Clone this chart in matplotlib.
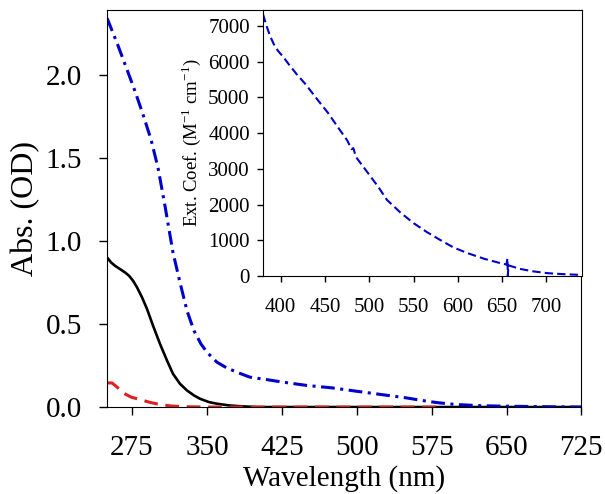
import numpy as np
import matplotlib
matplotlib.use("Agg")
import matplotlib.pyplot as plt

plt.rcParams['font.family'] = ['Liberation Serif', 'DejaVu Serif']
plt.rcParams['mathtext.fontset'] = 'custom'
plt.rcParams['mathtext.rm'] = 'Liberation Serif'

# main panel: absorbance spectra
wl_blue = [250, 260, 270, 278, 286, 294, 301, 308, 316, 323, 330, 337, 344, 350, 360, 370,
           382, 393, 410, 426, 450, 476, 500, 525, 550, 565, 580, 600, 625, 650, 690, 725]
abs_blue = [2.34, 2.19, 2.03, 1.90, 1.76, 1.61, 1.44, 1.21, 0.93, 0.75, 0.58, 0.46, 0.38, 0.33, 0.27, 0.235,
            0.205, 0.18, 0.165, 0.15, 0.13, 0.115, 0.095, 0.075, 0.055, 0.04, 0.027, 0.015, 0.008, 0.005, 0.002, 0.0]

wl_black = [250, 254, 258, 263, 268, 272, 276, 280, 285, 290, 296, 303, 310, 316, 323,
            330, 337, 343, 352, 360, 372, 383, 400, 725]
abs_black = [0.90, 0.87, 0.85, 0.83, 0.81, 0.79, 0.76, 0.72, 0.66, 0.59, 0.49, 0.38, 0.28, 0.20, 0.14,
             0.10, 0.07, 0.05, 0.03, 0.02, 0.01, 0.005, 0.0, 0.0]

wl_red = [250, 255, 260, 266, 274, 283, 293, 303, 315, 330, 350, 580]
abs_red = [0.145, 0.145, 0.12, 0.085, 0.06, 0.045, 0.028, 0.015, 0.006, 0.002, 0.0, 0.0]

# inset: extinction coefficient
wl_ext = [380, 384, 388, 392, 397, 403, 409, 418, 428, 443, 453, 465, 475, 480, 482, 485, 495,
          510, 520, 535, 550, 565, 580, 595, 611, 630, 645, 655, 656, 656.5, 657, 670, 685, 701, 720, 740]
ext = [7330, 7000, 6720, 6500, 6300, 6130, 5930, 5650, 5370, 4890, 4580, 4150, 3800, 3550, 3580, 3330, 3000,
       2500, 2130, 1780, 1480, 1230, 1010, 800, 640, 480, 380, 320, 500, 0, 300, 200, 130, 80, 50, 30]

xticks_main = [275, 350, 425, 500, 575, 650, 725]
yticks_main = [0.0, 0.5, 1.0, 1.5, 2.0]
xticks_in = [400, 450, 500, 550, 600, 650, 700]
yticks_in = [0, 1000, 2000, 3000, 4000, 5000, 6000, 7000]

fig = plt.figure(figsize=(6.05, 4.94), dpi=100)
ax = fig.add_axes([0.177, 0.176, 0.784, 0.804])

ax.plot(wl_black, abs_black, color='black', lw=1.9)
ax.plot(wl_red, abs_red, color='#e02020', lw=2.2, dashes=(4.5, 2.5))
ax.plot(wl_blue, abs_blue, color='#0000cc', lw=2.2, dashes=(4.5, 1.8, 1, 1.8))

ax.set_xlim(250, 725)
ax.set_ylim(0, 2.39)
ax.set_xticks(xticks_main)
ax.set_yticks(yticks_main)
ax.set_yticklabels(['%.1f' % v for v in yticks_main])
ax.tick_params(direction='out', length=6, width=1, labelsize=21, pad=12)
ax.tick_params(axis='x', pad=14)
ax.set_xlabel('Wavelength (nm)', fontsize=21, labelpad=3)
ax.set_ylabel('Abs. (OD)', fontsize=23, labelpad=4)

# inset
axi = fig.add_axes([0.4347, 0.4413, 0.527, 0.5387])
axi.plot(wl_ext, ext, color='#0000cc', lw=1.5, dashes=(4, 2))
axi.set_xlim(380, 740)
axi.set_ylim(0, 7450)
axi.set_xticks(xticks_in)
axi.set_yticks(yticks_in)
axi.tick_params(direction='out', length=4.5, width=1, labelsize=15, pad=5)
axi.tick_params(axis='x', pad=11)
axi.set_ylabel(r'Ext. Coef. (M$^{\mathrm{-1}}$ cm$^{\mathrm{-1}}$)', fontsize=13.5, labelpad=4)

fig.savefig('out.png', dpi=100)
